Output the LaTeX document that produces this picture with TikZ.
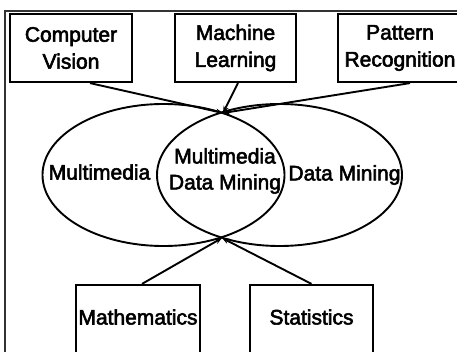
\documentclass[tikz,border=0pt]{standalone}
\usepackage{fontspec}
\setmainfont{Liberation Sans}[RawFeature={embolden=2.6}]
\usetikzlibrary{shapes.geometric,arrows.meta}
\begin{document}
\begin{tikzpicture}[x=1pt,y=-1pt,
  txt/.style={font=\fontsize{21}{26}\selectfont, align=center, inner sep=0pt},
  fieldbox/.style={draw, line width=2.2pt, minimum width=#1, minimum height=68pt, inner sep=0pt, font=\fontsize{21}{27}\selectfont, align=center},
  fieldbox/.default=122pt,
  oval/.style={draw, ellipse, line width=1.9pt, inner sep=0pt},
  link/.style={line width=1.9pt, -{Stealth[length=7pt,width=5.5pt]}}
]
\useasboundingbox (0,0) rectangle (457,352);
\clip (0,0) rectangle (457,352);
\fill[white] (0,0) rectangle (457,352);
% outer frame
\draw[line width=1.4pt, black!80] (5,360) -- (5,11) -- (470,11);
% ellipses
\node[oval, minimum width=242pt, minimum height=142pt] (left) at (163.5,175) {};
\node[oval, minimum width=245pt, minimum height=142pt] (right) at (279.5,175) {};
\coordinate (top) at (223,113);
\coordinate (bot) at (222,238);
% labels
\node[txt] (lmm) at (99.5,172) {Multimedia};
\node[txt] (mdm) at (225,171) {Multimedia\\Data Mining};
\node[txt] (rdm) at (344.5,175) {Data Mining};
% boxes
\node[fieldbox] (cv) at (71,48) {Computer\\Vision};
\node[fieldbox=121pt] (ml) at (235.5,48) {Machine\\Learning};
\node[fieldbox=124pt] (pr) at (400,48) {Pattern\\Recognition};
\node[fieldbox=124pt, minimum height=70pt] (ma) at (138,320) {};
\node[txt] at (138,317) {Mathematics};
\node[fieldbox=123pt, minimum height=70pt] (st) at (311.5,320) {};
\node[txt] at (311.5,317) {Statistics};
% connectors
\draw[link] ([xshift=19pt]cv.south) -- (top);
\draw[link] ([xshift=2.5pt]ml.south) -- (top);
\draw[link] ([xshift=10pt]pr.south) -- (top);
\draw[link] ([xshift=4pt]ma.north) -- (bot);
\draw[link] (st.north) -- (bot);
\end{tikzpicture}
\end{document}
